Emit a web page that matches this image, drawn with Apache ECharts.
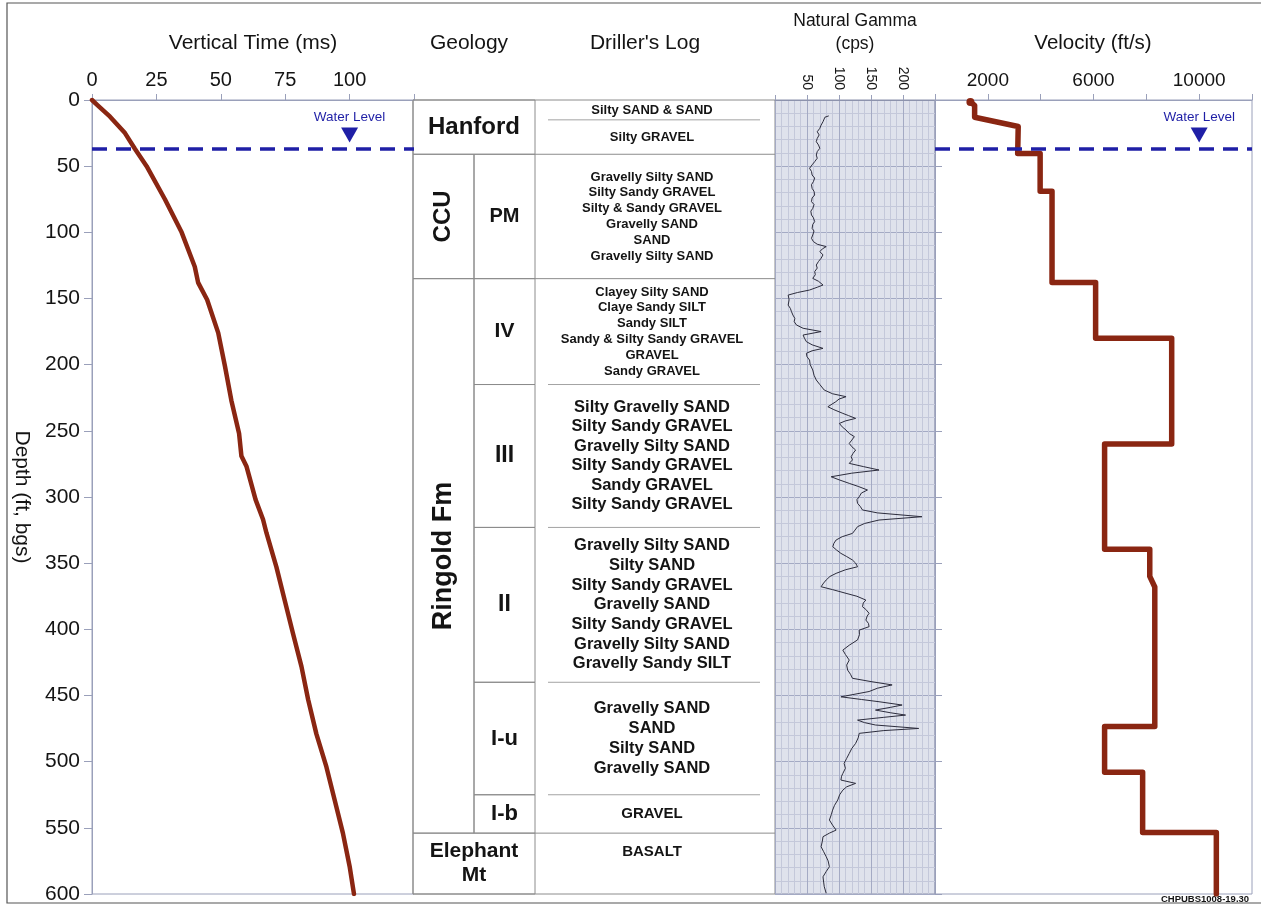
<!DOCTYPE html>
<html>
<head>
<meta charset="utf-8">
<title>Borehole seismic and geologic log</title>
<script src="https://cdn.jsdelivr.net/npm/echarts@6/dist/echarts.min.js"></script>
<style>
  html, body { margin: 0; padding: 0; background: #ffffff; }
  #chart { width: 1261px; height: 905px; }
</style>
</head>
<body>
<div id="chart"></div>
<script>
// ---------- data ----------
// One-way vertical travel time against depth
const timeDepths = [0, 4, 12.6, 25, 37, 50, 75, 100, 126, 138, 151, 176, 201, 227, 252, 269, 277, 302, 317, 327, 353, 378, 403, 428, 453, 479, 504, 529, 554, 579, 600];
const timeMs     = [0, 2.2, 7.0, 12.8, 16.7, 21.2, 28.3, 34.8, 39.9, 41.2, 44.7, 49.0, 51.6, 54.1, 57.1, 58.0, 60.0, 63.5, 66.4, 67.7, 71.6, 74.8, 78.0, 81.3, 83.9, 87.1, 91.0, 94.2, 97.4, 100.0, 101.7];

// Interval velocity profile (step log)
const velocityDepths = [1.5, 4, 13, 20, 40.5, 40.5, 69, 69, 138, 138, 180, 180, 260, 260, 339.5, 339.5, 360, 368, 473.5, 473.5, 508, 508, 553.5, 553.5, 600];
const velocityFtS    = [1340, 1500, 1500, 3150, 3130, 3980, 3980, 4430, 4430, 6080, 6080, 8960, 8960, 6420, 6420, 8130, 8130, 8320, 8320, 6420, 6420, 7860, 7860, 10650, 10650];

// Natural gamma log
const gammaDepths = [12, 13, 16.4, 19, 21.4, 24, 26.4, 29, 31.5, 34, 36.5, 39, 41.6, 44, 46.6, 49, 51.6, 54, 56.7, 59, 61.7, 64, 66.8, 69, 71.8, 74, 76.8, 79, 81.9, 84, 86.9, 89, 91.9, 94, 97, 99, 102, 104.5, 107, 109, 110.8, 112.5, 114.6, 117, 119.6, 122, 124.7, 127, 129.7, 132, 134.8, 137, 139.8, 141.5, 143.6, 145.5, 147.4, 151, 155, 157.5, 160, 162.5, 165, 167.5, 170, 172.5, 175, 177.6, 180, 182.6, 185, 187.7, 189.5, 191.4, 194, 196.5, 200, 204, 208, 211.6, 215, 219.2, 222, 224.2, 226, 228, 231.8, 234, 236.8, 238.5, 240.6, 242.5, 244.4, 247, 249.4, 252, 254.4, 257, 259.5, 262, 264.5, 267, 269.5, 272, 274.6, 277, 279.6, 282, 284.7, 287, 289.7, 292, 294.7, 297, 299.8, 302, 304.8, 307, 309.8, 312, 314.9, 317.4, 320, 322.4, 325, 327.5, 330, 332.5, 335, 337.6, 340, 342.6, 345, 347.6, 350, 352.7, 355, 357.7, 360, 362.7, 365, 367.8, 370, 372.8, 375, 377.9, 380, 382.9, 385, 387.9, 390, 393, 395.5, 398, 400.6, 404, 408, 412, 415.7, 419, 423.2, 427, 430.8, 434, 437, 439.5, 442, 444.5, 447, 449, 451, 453, 454.7, 457.2, 459, 461, 463, 464.8, 466.5, 468.6, 470.5, 472.3, 474.9, 476.5, 478.6, 482, 486.2, 490, 493.8, 497.5, 501.3, 505, 508.9, 511, 513.9, 516.4, 519, 521.5, 525, 529, 533, 536.6, 540, 544.1, 548, 551.7, 554, 556.7, 560, 564.3, 568, 571.8, 575, 579.4, 583, 587, 591, 594.5, 599.5];
const gammaCps    = [84, 78, 75, 72, 70, 66, 69, 66, 64.5, 68, 70, 66, 64.5, 66, 62, 58, 54, 57, 58, 62, 60, 57, 58, 61, 62, 58, 57, 61, 59, 56, 57, 60, 62, 59, 58, 61, 59, 57, 60, 66, 80, 74, 70, 75, 72, 68, 64.5, 66, 62, 63, 59, 68, 75, 66, 54, 35, 20.6, 22, 20.6, 24, 25.8, 28, 31, 30, 33.5, 43.9, 72, 43.9, 46, 49, 58, 75, 58, 49, 50, 54, 55, 59, 61, 64.5, 70, 77, 90, 111, 100, 95, 82.6, 92, 106, 115, 126, 110, 100.6, 105, 111, 116, 124, 120, 116, 120, 126, 122, 119, 121, 116, 138, 162.5, 120, 87.7, 100, 116, 130, 144.5, 135, 131.6, 128, 129, 133, 136.7, 160, 229.6, 162.5, 140, 129, 125, 121, 105, 95.5, 92, 90.3, 96, 103, 112, 121, 126, 129, 110, 95.5, 86, 80, 76, 72, 90, 111, 128, 142, 138, 136.7, 142, 147, 144, 142, 146, 147, 131.6, 132, 129, 116, 106, 110, 116, 112, 113.5, 118, 121, 150, 183, 160, 147, 125, 103, 135, 162.5, 198.6, 180, 157, 180, 204, 170, 129, 140, 157, 224.5, 170, 131.6, 130, 126, 120, 116, 112, 108, 110, 106, 104, 103, 126, 112, 106, 101, 98, 93, 90, 88, 85, 90, 95.5, 85, 75, 74, 72, 76, 80, 83, 85, 80, 75, 76, 77, 80];

// Static water level (ft bgs)
const waterLevelDepth = 37;

// Stratigraphy
const formationNames  = ['Hanford', 'CCU', 'Ringold Fm', 'Elephant\nMt'];
const formationTops   = [0, 41, 135, 554];
const formationBases  = [41, 135, 554, 600];
const subunitNames    = ['PM', 'IV', 'III', 'II', 'I-u', 'I-b'];
const subunitTops     = [41, 135, 215, 323, 440, 525];
const subunitBases    = [135, 215, 323, 440, 525, 554];

// Driller's log intervals
const logTops  = [0, 15, 41, 135, 215, 323, 440, 525, 554];
const logBases = [15, 41, 135, 215, 323, 440, 525, 554, 600];
const logDescriptions = [
  ['Silty SAND & SAND'],
  ['Silty GRAVEL'],
  ['Gravelly Silty SAND', 'Silty Sandy GRAVEL', 'Silty & Sandy GRAVEL', 'Gravelly SAND', 'SAND', 'Gravelly Silty SAND'],
  ['Clayey Silty SAND', 'Claye Sandy SILT', 'Sandy SILT', 'Sandy & Silty Sandy GRAVEL', 'GRAVEL', 'Sandy GRAVEL'],
  ['Silty Gravelly SAND', 'Silty Sandy GRAVEL', 'Gravelly Silty SAND', 'Silty Sandy GRAVEL', 'Sandy GRAVEL', 'Silty Sandy GRAVEL'],
  ['Gravelly Silty SAND', 'Silty SAND', 'Silty Sandy GRAVEL', 'Gravelly SAND', 'Silty Sandy GRAVEL', 'Gravelly Silty SAND', 'Gravelly Sandy SILT'],
  ['Gravelly SAND', 'SAND', 'Silty SAND', 'Gravelly SAND'],
  ['GRAVEL'],
  ['BASALT']
];

// Tick labels shown on each top axis
const timeTickLabels     = [0, 25, 50, 75, 100];
const gammaTickLabels    = [50, 100, 150, 200];
const velocityTickLabels = [2000, 6000, 10000];

// ---------- styles ----------
const FONT = 'Arial, "Liberation Sans", Helvetica, sans-serif';
const TEXT = '#141414';
const AXIS = '#9aa0ba';
const CELL_LINE = '#8c8c8c';
const CURVE = '#8a2612';
const WATER = '#1f1fa6';
const formationFontSizes = [24, 24, 27, 21];
const subunitFontSizes = [20, 21, 23, 23, 22, 22];
const logFontSizes = [13, 13, 13, 13, 16.5, 16.5, 16.5, 15, 15];
const logLineHeights = [15, 15, 15.8, 15.8, 19.5, 19.7, 19.8, 18, 18];
const COL1 = 61;   // formation column
const COL2 = 61;   // sub-unit column
const LOG_W = 240; // driller's log column

const depthAxisBase = {
  type: 'value', min: 0, max: 600, interval: 50, inverse: true
};

function waterLevelMarks(xValue) {
  return {
    markLine: {
      silent: true, symbol: 'none', animation: false,
      label: { show: false },
      lineStyle: { color: WATER, width: 3.5, type: [15, 9] },
      data: [{ yAxis: waterLevelDepth }]
    },
    markPoint: {
      silent: true, animation: false,
      symbol: 'path://M0,0 L10,0 L5,9 Z',
      symbolSize: [17, 15],
      symbolOffset: [0, -14],
      itemStyle: { color: WATER },
      label: {
        show: true, position: 'top', distance: 3,
        formatter: 'Water Level', color: WATER,
        fontSize: 13.5, fontFamily: FONT
      },
      data: [{ coord: [xValue, waterLevelDepth] }]
    }
  };
}

function formationItem(params, api) {
  const i = api.value(3);
  const top = api.value(1), base = api.value(2);
  const cs = params.coordSys;
  const y0 = api.coord([0, top])[1];
  const y1 = api.coord([0, base])[1];
  const nested = subunitTops.some(t => t >= top && t < base);
  const w = nested ? COL1 : COL1 + COL2;
  return {
    type: 'group',
    children: [
      { type: 'rect', shape: { x: cs.x, y: y0, width: w, height: y1 - y0 },
        style: { fill: 'none', stroke: CELL_LINE, lineWidth: 1 } },
      { type: 'text', x: cs.x + w / 2, y: (y0 + y1) / 2,
        rotation: nested ? Math.PI / 2 : 0,
        style: { text: formationNames[i], fill: TEXT, fontFamily: FONT,
                 fontWeight: 'bold', fontSize: formationFontSizes[i],
                 lineHeight: 24, align: 'center', verticalAlign: 'middle' } }
    ]
  };
}

function subunitItem(params, api) {
  const i = api.value(3);
  const cs = params.coordSys;
  const y0 = api.coord([0, api.value(1)])[1];
  const y1 = api.coord([0, api.value(2)])[1];
  const x0 = cs.x + COL1;
  return {
    type: 'group',
    children: [
      { type: 'rect', shape: { x: x0, y: y0, width: COL2, height: y1 - y0 },
        style: { fill: 'none', stroke: CELL_LINE, lineWidth: 1 } },
      { type: 'text', x: x0 + COL2 / 2, y: (y0 + y1) / 2,
        style: { text: subunitNames[i], fill: TEXT, fontFamily: FONT,
                 fontWeight: 'bold', fontSize: subunitFontSizes[i],
                 align: 'center', verticalAlign: 'middle' } }
    ]
  };
}

function logItem(params, api) {
  const i = api.value(3);
  const top = api.value(1);
  const cs = params.coordSys;
  const y0 = api.coord([0, top])[1];
  const y1 = api.coord([0, api.value(2)])[1];
  const x0 = cs.x + COL1 + COL2;
  const basement = i === logTops.length - 1;
  const children = [];
  if (i > 0) {
    const onFormation = formationTops.indexOf(top) >= 0;
    children.push({
      type: 'line',
      shape: onFormation
        ? { x1: x0, y1: y0, x2: x0 + LOG_W, y2: y0 }
        : { x1: x0 + 13, y1: y0, x2: x0 + LOG_W - 15, y2: y0 },
      style: { stroke: onFormation ? CELL_LINE : '#a3a3a3', lineWidth: 1 }
    });
  }
  children.push({
    type: 'text', x: x0 + LOG_W / 2 - 3, y: basement ? y0 + 10 : (y0 + y1) / 2,
    style: { text: logDescriptions[i].join('\n'), fill: TEXT, fontFamily: FONT,
             fontWeight: 'bold', fontSize: logFontSizes[i], lineHeight: logLineHeights[i],
             align: 'center', verticalAlign: basement ? 'top' : 'middle' }
  });
  return { type: 'group', children: children };
}

function headerText(text, x, y, size, extra) {
  return Object.assign({
    type: 'text', x: x, y: y, silent: true,
    style: { text: text, fill: TEXT, fontFamily: FONT, fontSize: size,
             align: 'center', verticalAlign: 'middle' }
  }, extra || {});
}

const chart = echarts.init(document.getElementById('chart'), null, { renderer: 'canvas' });

const option = {
  animation: false,
  backgroundColor: '#ffffff',
  textStyle: { fontFamily: FONT },
  grid: [
    { left: 92, top: 100, width: 322, height: 794, show: true, borderColor: AXIS, borderWidth: 1, backgroundColor: '#ffffff', outerBoundsMode: 'none' },
    { left: 775, top: 100, width: 160, height: 794, show: true, borderColor: '#8d93ad', borderWidth: 1, backgroundColor: '#dfe2ec', outerBoundsMode: 'none' },
    { left: 935, top: 100, width: 317, height: 794, show: true, borderColor: AXIS, borderWidth: 1, backgroundColor: '#ffffff', outerBoundsMode: 'none' },
    { left: 413, top: 100, width: 362, height: 794, show: true, borderColor: CELL_LINE, borderWidth: 1, backgroundColor: '#ffffff', outerBoundsMode: 'none' }
  ],
  xAxis: [
    { gridIndex: 0, type: 'value', position: 'top', min: 0, max: 125, interval: 25,
      axisLine: { show: true, lineStyle: { color: AXIS } },
      axisTick: { show: true, length: 6, lineStyle: { color: AXIS } },
      axisLabel: { fontSize: 20, color: TEXT, margin: 10, fontFamily: FONT,
                   formatter: v => timeTickLabels.indexOf(v) >= 0 ? String(v) : '' },
      splitLine: { show: false } },
    { gridIndex: 1, type: 'value', position: 'top', min: 0, max: 250, interval: 50,
      axisLine: { show: true, lineStyle: { color: '#8d93ad' } },
      axisTick: { show: true, length: 5, lineStyle: { color: AXIS } },
      axisLabel: { fontSize: 14, color: TEXT, margin: 10, rotate: -90, fontFamily: FONT,
                   formatter: v => gammaTickLabels.indexOf(v) >= 0 ? String(v) : '' },
      splitLine: { show: true, lineStyle: { color: '#a4aac4', width: 1 } },
      minorTick: { show: false, splitNumber: 5 },
      minorSplitLine: { show: true, lineStyle: { color: '#c4c8da', width: 1 } } },
    { gridIndex: 2, type: 'value', position: 'top', min: 0, max: 12000, interval: 2000,
      axisLine: { show: true, lineStyle: { color: AXIS } },
      axisTick: { show: true, length: 6, lineStyle: { color: AXIS } },
      axisLabel: { fontSize: 19, color: TEXT, margin: 10, fontFamily: FONT,
                   formatter: v => velocityTickLabels.indexOf(v) >= 0 ? String(v) : '' },
      splitLine: { show: false } },
    { gridIndex: 3, type: 'value', min: 0, max: 1, show: false }
  ],
  yAxis: [
    Object.assign({}, depthAxisBase, { gridIndex: 0, position: 'left',
      axisLine: { show: true, lineStyle: { color: AXIS } },
      axisTick: { show: true, length: 8, lineStyle: { color: AXIS } },
      axisLabel: { fontSize: 21, color: TEXT, margin: 12, fontFamily: FONT },
      splitLine: { show: false } }),
    Object.assign({}, depthAxisBase, { gridIndex: 1, position: 'left',
      axisLine: { show: false }, axisTick: { show: false }, axisLabel: { show: false },
      splitLine: { show: true, lineStyle: { color: '#a4aac4', width: 1 } },
      minorTick: { show: false, splitNumber: 5 },
      minorSplitLine: { show: true, lineStyle: { color: '#c4c8da', width: 1 } } }),
    Object.assign({}, depthAxisBase, { gridIndex: 2, position: 'right',
      axisLine: { show: true, lineStyle: { color: AXIS } },
      axisTick: { show: true, length: 7, lineStyle: { color: AXIS } },
      axisLabel: { show: false },
      splitLine: { show: false } }),
    Object.assign({}, depthAxisBase, { gridIndex: 3, show: false })
  ],
  series: [
    Object.assign({
      name: 'Vertical Time', type: 'line', xAxisIndex: 0, yAxisIndex: 0,
      showSymbol: false, symbol: 'none', smooth: false, silent: true,
      lineStyle: { color: CURVE, width: 4.5, cap: 'round', join: 'round' },
      data: timeDepths.map((d, i) => [timeMs[i], d])
    }, waterLevelMarks(100)),
    {
      name: 'Natural Gamma', type: 'line', xAxisIndex: 1, yAxisIndex: 1,
      showSymbol: false, symbol: 'none', silent: true,
      lineStyle: { color: '#2c2c3c', width: 1 },
      data: gammaDepths.map((d, i) => [gammaCps[i], d])
    },
    Object.assign({
      name: 'Velocity', type: 'line', xAxisIndex: 2, yAxisIndex: 2,
      showSymbol: true, symbol: 'none', silent: true,
      itemStyle: { color: CURVE },
      lineStyle: { color: CURVE, width: 5.5, join: 'round', cap: 'round' },
      data: velocityDepths.map((d, i) => i === 0
        ? { value: [velocityFtS[i], d], symbol: 'circle', symbolSize: 8 }
        : [velocityFtS[i], d])
    }, waterLevelMarks(10000)),
    { name: 'Formations', type: 'custom', xAxisIndex: 3, yAxisIndex: 3, silent: true,
      renderItem: formationItem,
      data: formationTops.map((t, i) => [0, t, formationBases[i], i]) },
    { name: 'Sub-units', type: 'custom', xAxisIndex: 3, yAxisIndex: 3, silent: true,
      renderItem: subunitItem,
      data: subunitTops.map((t, i) => [0, t, subunitBases[i], i]) },
    { name: "Driller's Log", type: 'custom', xAxisIndex: 3, yAxisIndex: 3, silent: true,
      renderItem: logItem,
      data: logTops.map((t, i) => [0, t, logBases[i], i]) }
  ],
  graphic: [
    { type: 'rect', silent: true, z: -1,
      shape: { x: 7, y: 3, width: 1270, height: 900 },
      style: { fill: 'none', stroke: '#555555', lineWidth: 1.2 } },
    headerText('Vertical Time (ms)', 253, 43, 21),
    headerText('Geology', 469, 43, 21),
    headerText("Driller's Log", 645, 43, 21),
    headerText('Natural Gamma', 855, 21, 17.5),
    headerText('(cps)', 855, 44, 17.5),
    headerText('Velocity (ft/s)', 1093, 43, 20.5),
    headerText('Depth (ft, bgs)', 22, 497, 21, { rotation: -Math.PI / 2 }),
    { type: 'text', x: 1205, y: 899, silent: true,
      style: { text: 'CHPUBS1008-19.30', fill: TEXT, fontFamily: FONT, fontSize: 9.5,
               fontWeight: 'bold', align: 'center', verticalAlign: 'middle' } }
  ]
};

chart.setOption(option);
</script>
</body>
</html>
